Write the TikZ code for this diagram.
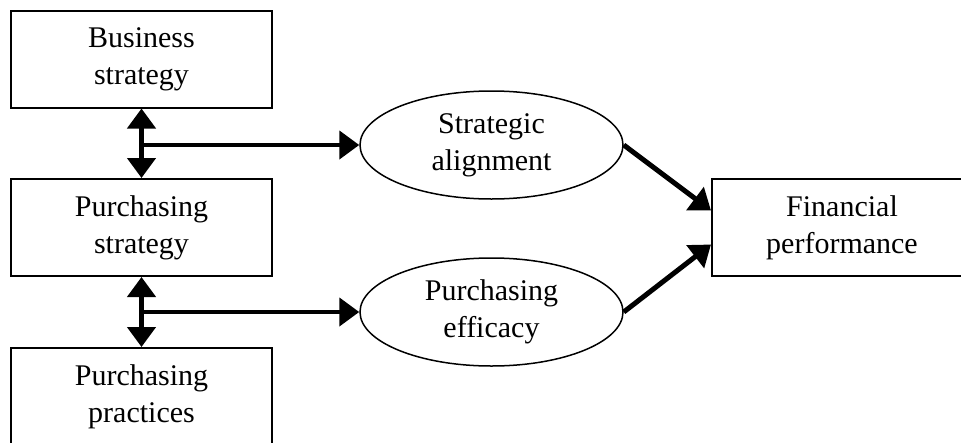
\documentclass[tikz,border=0pt]{standalone}
\usepackage{fontspec}
\setmainfont{Liberation Serif}
\usetikzlibrary{arrows.meta,shapes.geometric}

\begin{document}
\begin{tikzpicture}[x=1pt, y=-1pt,
	box/.style={draw, line width=2pt, minimum width=261pt, minimum height=97pt, inner sep=0pt, align=center, font=\fontsize{30}{37}\selectfont},
	oval/.style={draw, ellipse, line width=1.5pt, minimum width=263pt, minimum height=108pt, inner sep=0pt, align=center, font=\fontsize{30}{37}\selectfont},
	arr/.style={line width=4.5pt, -{Triangle[length=20pt,width=28pt]}},
	darr/.style={line width=4.5pt, {Triangle[length=20pt,width=28pt]}-{Triangle[length=20pt,width=28pt]}},
	]
	\useasboundingbox (0,0) rectangle (961,442);
	\node[box] (bs) at (141.5,59) {Business\\strategy};
	\node[box] (ps) at (141.5,227.5) {Purchasing\\strategy};
	\node[box] (pp) at (141.5,396.5) {Purchasing\\practices};
	\node[oval] (sa) at (491.5,145) {Strategic\\alignment};
	\node[oval] (pe) at (491.5,312) {Purchasing\\efficacy};
	\node[box, minimum width=260pt] (fp) at (842,227.5) {Financial\\performance};
	% left column
	\draw[darr] (bs) -- (ps);
	\draw[darr] (ps) -- (pp);
	\coordinate (j1) at (bs.south |- sa.west);
	\coordinate (j2) at (ps.south |- pe.west);
	\draw[arr] (j1) -- (sa.west);
	\draw[arr] (j2) -- (pe.west);
	% into financial performance
	\draw[arr, line width=5pt] (sa.east) -- ([yshift=17pt]fp.west);
	\draw[arr, line width=5pt] (pe.east) -- ([yshift=-17pt]fp.west);
\end{tikzpicture}
\end{document}
